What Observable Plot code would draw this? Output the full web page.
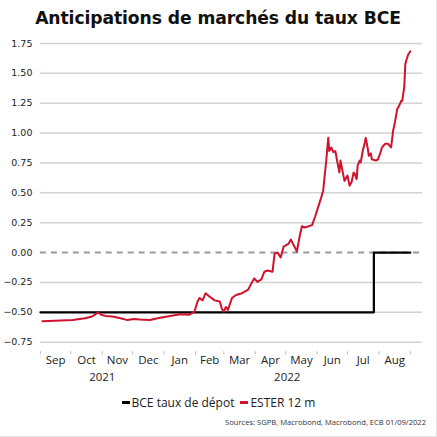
<!DOCTYPE html>
<html>
<head>
<meta charset="utf-8">
<script src="https://cdn.jsdelivr.net/npm/d3@7"></script>
<script src="https://cdn.jsdelivr.net/npm/@observablehq/plot@0.6"></script>
<style>
  html, body { margin: 0; padding: 0; background: #fff; }
  body { width: 437px; height: 437px; overflow: hidden; position: relative; box-sizing: border-box;
         border-right: 1px solid #e4e4e4; border-bottom: 1px solid #e4e4e4; }
  #title { height: 30px; line-height: 36px; text-align: center; color: #111;
           font-family: "DejaVu Sans", sans-serif; font-weight: bold; font-size: 17.2px; letter-spacing: -0.1px; }
  #chart svg { display: block; }
  #legend { position: absolute; top: 394px; left: 0; width: 437px; display: flex; justify-content: center;
            align-items: center; font-family: "Open Sans", sans-serif; font-size: 12px; color: #222; }
  #legend .sw { display: inline-block; width: 8px; height: 2.5px; margin: 0 2px 0 0; }
  #legend .item { display: flex; align-items: center; margin: 0 3px; }
  #source { position: absolute; top: 417px; right: 10px; font-family: "Open Sans", sans-serif;
            font-size: 7.6px; color: #333; }
</style>
</head>
<body>
<div id="title">Anticipations de marchés du taux BCE</div>
<div id="chart"></div>
<div id="legend"></div>
<div id="source">Sources: SGPB, Macrobond, Macrobond, ECB 01/09/2022</div>
<script>
// Series names and colours
const seriesNames = ["BCE taux de dépot", "ESTER 12 m"];
const seriesColors = ["#000000", "#d0122c"];

// ECB deposit facility rate (step changes)
const bceDates = ["2021-09-01", "2022-07-27", "2022-09-01"];
const bceValues = [-0.5, 0.0, 0.0];

// 12-month €STR forward, market expectations
const esterDates = [
  "2021-09-03","2021-09-15","2021-10-03","2021-10-15","2021-10-22","2021-10-28","2021-10-31",
  "2021-11-04","2021-11-11","2021-11-19","2021-11-26","2021-12-02","2021-12-08","2021-12-18",
  "2021-12-28","2022-01-07","2022-01-17","2022-01-26","2022-01-31","2022-02-03","2022-02-05",
  "2022-02-08","2022-02-11","2022-02-15","2022-02-20","2022-02-25","2022-02-27","2022-03-01",
  "2022-03-03","2022-03-05","2022-03-09","2022-03-13","2022-03-19","2022-03-25","2022-03-28",
  "2022-03-31","2022-04-03","2022-04-07","2022-04-10","2022-04-13","2022-04-18","2022-04-20",
  "2022-04-23","2022-04-26","2022-04-29","2022-05-04","2022-05-06","2022-05-09","2022-05-12",
  "2022-05-15","2022-05-17","2022-05-20","2022-05-27","2022-05-30","2022-06-02","2022-06-05",
  "2022-06-07","2022-06-10","2022-06-12","2022-06-13","2022-06-15","2022-06-17","2022-06-19",
  "2022-06-21","2022-06-23","2022-06-24","2022-06-25","2022-06-28","2022-07-01","2022-07-03",
  "2022-07-05","2022-07-07","2022-07-08","2022-07-10","2022-07-11","2022-07-13","2022-07-14",
  "2022-07-16","2022-07-18","2022-07-19","2022-07-21","2022-07-22","2022-07-24","2022-07-25",
  "2022-07-29","2022-07-31","2022-08-02","2022-08-04","2022-08-07","2022-08-10","2022-08-13",
  "2022-08-15","2022-08-17","2022-08-19","2022-08-21","2022-08-23","2022-08-24","2022-08-26",
  "2022-08-27","2022-08-28","2022-08-30","2022-09-01"
];
const esterValues = [
  -0.575,-0.57,-0.565,-0.55,-0.535,-0.50,-0.52,
  -0.53,-0.535,-0.55,-0.565,-0.555,-0.56,-0.565,
  -0.545,-0.53,-0.517,-0.52,-0.495,-0.41,-0.38,
  -0.40,-0.34,-0.37,-0.40,-0.41,-0.47,-0.495,
  -0.455,-0.48,-0.38,-0.355,-0.34,-0.31,-0.26,
  -0.215,-0.245,-0.225,-0.16,-0.15,-0.16,-0.01,
  0.0,-0.04,0.05,0.075,0.11,0.06,0.01,
  0.145,0.22,0.21,0.23,0.30,0.38,0.46,
  0.52,0.77,0.96,0.85,0.88,0.84,0.85,
  0.755,0.67,0.77,0.73,0.60,0.645,0.56,
  0.59,0.67,0.66,0.615,0.73,0.77,0.755,
  0.85,0.92,0.96,0.87,0.81,0.83,0.78,
  0.77,0.78,0.825,0.88,0.91,0.91,0.88,
  1.02,1.10,1.20,1.23,1.27,1.27,1.39,
  1.575,1.61,1.66,1.685
];

// Axis labels
const yTicks = [1.75, 1.5, 1.25, 1.0, 0.75, 0.5, 0.25, 0.0, -0.25, -0.5, -0.75];
const monthLabels = ["Sep", "Oct", "Nov", "Dec", "Jan", "Feb", "Mar", "Apr", "May", "Jun", "Jul", "Aug"];
const yearLabels = ["2021", "2022"];
const yearSpans = [["2021-09-01", "2022-01-01"], ["2022-01-01", "2022-09-01"]];

const parse = d3.utcParse("%Y-%m-%d");
const bce = bceDates.map((d, i) => ({date: parse(d), value: bceValues[i]}));
const ester = esterDates.map((d, i) => ({date: parse(d), value: esterValues[i]}));

const monthStarts = d3.utcMonth.range(parse("2021-09-01"), parse("2022-09-02"));
const months = monthLabels.map((label, i) => ({
  date: new Date((+monthStarts[i] + +monthStarts[i + 1]) / 2), label
}));
const years = yearLabels.map((label, i) => ({
  date: new Date((+parse(yearSpans[i][0]) + +parse(yearSpans[i][1])) / 2), label
}));

const chart = Plot.plot({
  width: 437,
  height: 360,
  marginTop: 13,
  marginLeft: 40,
  marginRight: 14,
  marginBottom: 38,
  style: {color: "#222", background: "#fff"},
  x: {type: "utc", domain: [parse("2021-09-01"), parse("2022-09-13")], axis: null},
  y: {domain: [-0.83, 1.75], axis: null},
  marks: [
    Plot.ruleY(yTicks.filter(v => v !== 0), {stroke: "#d2d2d2", strokeWidth: 1.5}),
    Plot.ruleY([0], {stroke: "#9a9a9a", strokeWidth: 2, strokeDasharray: "6,5"}),
    Plot.axisY({ticks: yTicks, tickFormat: d3.format(".2f"), tickSize: 0, tickPadding: 8, label: null,
                fontFamily: "DejaVu Sans", fontSize: 9.5, fill: "#222"}),
    Plot.axisX({ticks: monthStarts, tickFormat: () => "", tickSize: 3, stroke: "#b8b8b8", label: null}),
    Plot.text(months, {x: "date", text: "label", frameAnchor: "bottom", dy: 12,
                       fontFamily: "Open Sans", fontSize: 11.5, fill: "#222"}),
    Plot.text(years, {x: "date", text: "label", frameAnchor: "bottom", dy: 29,
                      fontFamily: "Open Sans", fontSize: 11.5, fill: "#222"}),
    Plot.line(bce, {x: "date", y: "value", curve: "step-after", stroke: seriesColors[0], strokeWidth: 2.2}),
    Plot.line(ester, {x: "date", y: "value", stroke: seriesColors[1], strokeWidth: 2})
  ]
});
document.getElementById("chart").append(chart);

// Legend
const legend = document.getElementById("legend");
seriesNames.forEach((name, i) => {
  const item = document.createElement("span");
  item.className = "item";
  const sw = document.createElement("span");
  sw.className = "sw";
  sw.style.background = seriesColors[i];
  item.append(sw, document.createTextNode(name));
  legend.append(item);
});
</script>
</body>
</html>
